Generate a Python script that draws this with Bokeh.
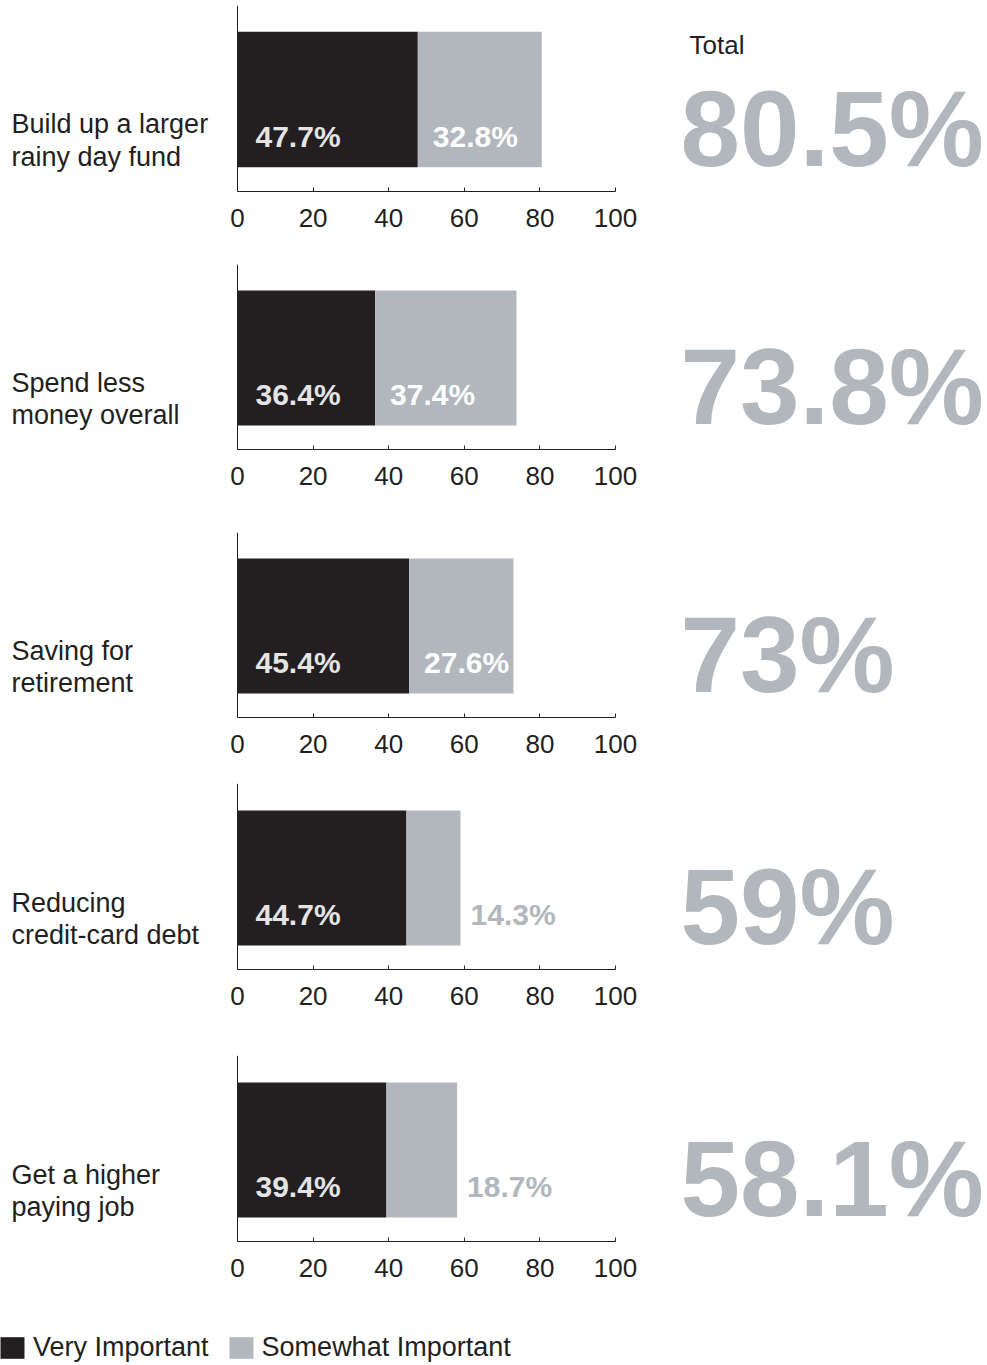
from bokeh.plotting import figure
from bokeh.layouts import column
from bokeh.models import Range1d, FixedTicker, Label, Legend, LegendItem, ColumnDataSource, Span
from bokeh.core.properties import value
from bokeh.embed import file_html
from bokeh.resources import INLINE

# ---- data ----
categories = [
    "Build up a larger\nrainy day fund",
    "Spend less\nmoney overall",
    "Saving for\nretirement",
    "Reducing\ncredit-card debt",
    "Get a higher\npaying job",
]
very = [47.7, 36.4, 45.4, 44.7, 39.4]
somewhat = [32.8, 37.4, 27.6, 14.3, 18.7]
series_names = ["Very Important", "Somewhat Important"]
x_ticks = [0, 20, 40, 60, 80, 100]
total_title = "Total"

# ---- styles ----
DARK = "#231f20"
GREY = "#b1b7bc"
LIGHT = "#e4e4e4"
FONT = "Liberation Sans"
BAR_PX = 135.0
PX_PER_UNIT = 3.78
FRAME_LEFT = 237
WIDTH = 987
BELOW_PAD = 24
BASE_SHIFT = 0.36  # renderer places "alphabetic" text this fraction of size lower
# (figure height, top border, pad above bar, bottom border)
panel_layout = [(264, 5, 26, 73), (268, 0, 26, 83), (251, 0, 26, 66),
                (272, 0, 27, 86), (245, 0, 27, 59)]
X0 = -FRAME_LEFT / PX_PER_UNIT
X1 = (WIDTH - FRAME_LEFT) / PX_PER_UNIT


def fmt(v):
    return f"{round(v, 1):g}%"


def by(px_above_bottom, size):
    """data y for a text baseline px_above_bottom pixels above the bar bottom"""
    return -0.5 + (px_above_bottom + BASE_SHIFT * size) / BAR_PX


def base_fig(h, top, bot, y_range):
    p = figure(width=WIDTH, height=h, output_backend="svg", toolbar_location=None,
               x_range=Range1d(X0, X1), y_range=y_range, y_axis_location=None,
               min_border_left=0, min_border_right=0, min_border_top=top,
               min_border_bottom=bot)
    p.outline_line_color = None
    p.xgrid.visible = False
    p.ygrid.visible = False
    p.background_fill_color = "white"
    p.border_fill_color = "white"
    return p


figs = []
for i, cat in enumerate(categories):
    fh, top, top_pad, bot = panel_layout[i]
    v, s = very[i], somewhat[i]
    tot = v + s
    p = base_fig(fh, top, bot,
                 Range1d(-0.5 - BELOW_PAD / BAR_PX, 0.5 + top_pad / BAR_PX))

    src = ColumnDataSource(dict(y=[0], v0=[0], v1=[v], s1=[tot]))
    p.hbar(y="y", left="v0", right="v1", height=1, source=src,
           fill_color=DARK, line_color=None)
    p.hbar(y="y", left="v1", right="s1", height=1, source=src,
           fill_color=GREY, line_color=None)

    # vertical axis line at 0
    p.add_layout(Span(location=0, dimension="height", line_color=DARK, line_width=1))

    # value labels
    ylab = by(20, 30)
    p.text(x=[0], y=[ylab], text=[fmt(v)], x_offset=18,
           text_font=value(FONT), text_font_style="bold", text_font_size="30px",
           text_color=LIGHT, text_baseline="alphabetic", text_align="left")
    if s >= 20:
        p.text(x=[v], y=[ylab], text=[fmt(s)], x_offset=15,
               text_font=value(FONT), text_font_style="bold", text_font_size="30px",
               text_color="white", text_baseline="alphabetic", text_align="left")
    else:
        p.text(x=[tot], y=[ylab], text=[fmt(s)], x_offset=10,
               text_font=value(FONT), text_font_style="bold", text_font_size="30px",
               text_color=GREY, text_baseline="alphabetic", text_align="left")

    # category label (two lines)
    lines = cat.split("\n")
    n = len(lines)
    for j, line in enumerate(lines):
        yy = by(1 + 32 * (n - 1 - j), 27)
        p.add_layout(Label(x=0, y=yy, x_offset=-226,
                           text=line, text_font=FONT, text_font_size="27px",
                           text_color=DARK, text_baseline="alphabetic", text_align="left"))

    # big total
    p.add_layout(Label(x=0, y=by(0, 107), x_offset=443, text=fmt(tot),
                       text_font=FONT, text_font_style="bold", text_font_size="107px",
                       text_color=GREY, text_baseline="alphabetic", text_align="left"))
    if i == 0:
        p.add_layout(Label(x=0, y=by(112, 26), x_offset=452, text=total_title,
                           text_font=FONT, text_font_size="26px", text_color=DARK,
                           text_baseline="alphabetic", text_align="left"))

    # x axis
    xa = p.xaxis[0]
    xa.bounds = (0, 100)
    xa.ticker = FixedTicker(ticks=x_ticks)
    xa.axis_line_color = DARK
    xa.major_tick_line_color = DARK
    xa.major_tick_in = 4
    xa.major_tick_out = 0
    xa.minor_tick_line_color = None
    xa.major_label_text_font = FONT
    xa.major_label_text_font_size = "26px"
    xa.major_label_text_color = DARK
    xa.major_label_standoff = 17

    figs.append(p)

# legend figure (legend proxies: zero-height bars of the series)
pl = figure(width=WIDTH, height=65, output_backend="svg", toolbar_location=None,
            x_range=Range1d(X0, X1), y_range=Range1d(0, 1),
            x_axis_location=None, y_axis_location=None,
            min_border_left=0, min_border_right=0, min_border_top=0, min_border_bottom=0)
pl.outline_line_color = None
pl.xgrid.visible = False
pl.ygrid.visible = False
lsrc = ColumnDataSource(dict(y=[0], v0=[0], v1=[very[-1]], s1=[very[-1] + somewhat[-1]]))
lr1 = pl.hbar(y="y", left="v0", right="v1", height=0, source=lsrc,
              fill_color=DARK, line_color=None)
lr2 = pl.hbar(y="y", left="v1", right="s1", height=0, source=lsrc,
              fill_color=GREY, line_color=None)
legend = Legend(items=[LegendItem(label=series_names[0], renderers=[lr1]),
                       LegendItem(label=series_names[1], renderers=[lr2])],
                orientation="horizontal", location=(-3, 2),
                padding=0, margin=0, spacing=17, label_standoff=6,
                glyph_width=30, glyph_height=27,
                label_text_font=FONT, label_text_font_size="27px", label_text_color=DARK,
                border_line_color=None, background_fill_alpha=0)
pl.add_layout(legend, "center")
figs.append(pl)

layout = column(*figs, spacing=0)
open("out.html", "w").write(file_html(layout, INLINE))
